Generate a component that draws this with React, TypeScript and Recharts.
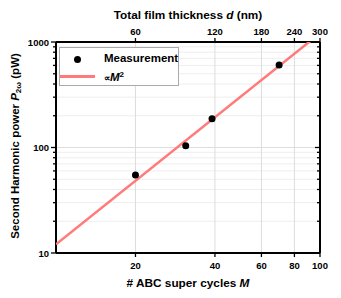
import { ComposedChart, Scatter, XAxis, YAxis, ReferenceLine, Legend, Label } from 'recharts';

// measured points: ABC super cycles M vs SH power (pW)
const cycles = [20, 31, 39, 70];
const power = [55, 104, 187, 604];

// M^2 guide line, read at the plot edges
const fitCycles = [10, 100];
const fitPower = [12.1, 1210];

const xTicks = [20, 40, 60, 80, 100];
// top axis: total film thickness d (nm) at the same positions
const topTicks = [60, 120, 180, 240, 300];
const yTicks = [10, 20, 30, 40, 50, 60, 70, 80, 90, 100, 200, 300, 400, 500, 600, 700, 800, 900, 1000];
const yMajor = [10, 100, 1000];
const xGrid = [20, 40, 60, 80];

const legendNames = ['Measurement', 'M'];

const points = cycles.map((m, i) => ({ m, p: power[i] }));
const fit = fitCycles.map((m, i) => ({ m, p: fitPower[i] }));

const FONT = '"Liberation Sans", Arial, Helvetica, sans-serif';
const RED = '#ff7b7b';

const LeftTick = (props: any) => {
  const { x, y, payload } = props;
  const major = yMajor.includes(payload.value);
  return (
    <g>
      <line x1={x} x2={x - (major ? 5 : 3)} y1={y} y2={y} stroke="#000" strokeWidth={1.3} />
      {major && (
        <text x={x - 7} y={y} textAnchor="end" dominantBaseline="central" fontFamily={FONT} fontWeight="bold" fontSize={9.5} fill="#000">
          {payload.value}
        </text>
      )}
    </g>
  );
};

const RightTick = (props: any) => {
  const { x, y, payload } = props;
  const major = yMajor.includes(payload.value);
  return <line x1={x} x2={x - (major ? 5 : 3)} y1={y} y2={y} stroke="#000" strokeWidth={1.3} />;
};

const BottomTick = (props: any) => {
  const { x, y, payload } = props;
  return (
    <g>
      <line x1={x} x2={x} y1={y} y2={y + 4} stroke="#000" strokeWidth={1.3} />
      <text x={x} y={y + 12} textAnchor="middle" dominantBaseline="central" fontFamily={FONT} fontWeight="bold" fontSize={9.5} fill="#000">
        {payload.value}
      </text>
    </g>
  );
};

const TopTick = (props: any) => {
  const { x, y, payload } = props;
  const label = topTicks[xTicks.indexOf(payload.value)];
  return (
    <g>
      <line x1={x} x2={x} y1={y} y2={y - 4} stroke="#000" strokeWidth={1.3} />
      <text x={x} y={y - 11} textAnchor="middle" dominantBaseline="central" fontFamily={FONT} fontWeight="bold" fontSize={9.5} fill="#000">
        {label}
      </text>
    </g>
  );
};

const YTitle = () => (
  <text
    transform="translate(15,146) rotate(-90)"
    textAnchor="middle"
    dominantBaseline="central"
    fontFamily={FONT}
    fontWeight="bold"
    fontSize={11.5}
    fill="#000"
  >
    Second Harmonic power <tspan fontStyle="italic">P</tspan>
    <tspan fontSize={8} dy={3}>2ω</tspan>
    <tspan dy={-3}> (pW)</tspan>
  </text>
);

const BottomTitle = () => (
  <text x={188} y={283} textAnchor="middle" dominantBaseline="central" fontFamily={FONT} fontWeight="bold" fontSize={11.8} fill="#000">
    # ABC super cycles <tspan fontStyle="italic">M</tspan>
  </text>
);

const TopTitle = () => (
  <text x={188} y={15} textAnchor="middle" dominantBaseline="central" fontFamily={FONT} fontWeight="bold" fontSize={11.8} fill="#000">
    Total film thickness <tspan fontStyle="italic">d</tspan> (nm)
  </text>
);

const LegendBox = () => (
  <div
    style={{
      position: 'relative',
      width: 120,
      height: 39,
      boxSizing: 'border-box',
      border: '1px solid #aaa',
      background: '#fff',
      fontFamily: FONT,
      fontWeight: 'bold',
      fontSize: 11.5,
      color: '#000',
    }}
  >
    <div style={{ position: 'absolute', left: 14, top: 8, width: 7, height: 7, borderRadius: '50%', background: '#000' }} />
    <div style={{ position: 'absolute', left: 44, top: 3, lineHeight: '14px' }}>{legendNames[0]}</div>
    <div style={{ position: 'absolute', left: 0, top: 27, width: 35, height: 2.5, background: RED }} />
    <div style={{ position: 'absolute', left: 44, top: 20, lineHeight: '14px', whiteSpace: 'nowrap' }}>
      <span style={{ fontSize: 9 }}>∝</span>
      <i>{legendNames[1]}</i>
      <sup style={{ fontSize: 8, verticalAlign: 4 }}>2</sup>
    </div>
  </div>
);

export default function App() {
  return (
    <div style={{ position: 'absolute', left: 0, top: 0, width: 341, height: 298, background: '#fff' }}>
      <ComposedChart width={341} height={298} margin={{ top: 0, right: 0, bottom: 0, left: 0 }}>
        <XAxis
          xAxisId="bottom"
          dataKey="m"
          type="number"
          scale="log"
          domain={[10, 100]}
          allowDataOverflow
          ticks={xTicks}
          interval={0}
          height={45}
          tickSize={0}
          tickMargin={0}
          tick={<BottomTick />}
          axisLine={{ stroke: '#000', strokeWidth: 2 }}
        >
          <Label content={<BottomTitle />} />
        </XAxis>
        <XAxis
          xAxisId="top"
          orientation="top"
          dataKey="m"
          type="number"
          scale="log"
          domain={[10, 100]}
          allowDataOverflow
          ticks={xTicks}
          interval={0}
          height={42}
          tickSize={0}
          tickMargin={0}
          tick={<TopTick />}
          axisLine={{ stroke: '#000', strokeWidth: 2 }}
        >
          <Label content={<TopTitle />} />
        </XAxis>
        <YAxis
          yAxisId="left"
          dataKey="p"
          type="number"
          scale="log"
          domain={[10, 1000]}
          allowDataOverflow
          ticks={yTicks}
          interval={0}
          width={56}
          tickSize={0}
          tickMargin={0}
          tick={<LeftTick />}
          axisLine={{ stroke: '#000', strokeWidth: 2 }}
        >
          <Label content={<YTitle />} />
        </YAxis>
        <YAxis
          yAxisId="right"
          orientation="right"
          dataKey="p"
          type="number"
          scale="log"
          domain={[10, 1000]}
          allowDataOverflow
          ticks={yTicks}
          interval={0}
          width={21}
          tickSize={0}
          tickMargin={0}
          tick={<RightTick />}
          axisLine={{ stroke: '#000', strokeWidth: 2 }}
        />

        {yTicks
          .filter(v => !yMajor.includes(v))
          .map(v => (
            <ReferenceLine key={'h' + v} xAxisId="bottom" yAxisId="left" y={v} stroke="#eeeeee" strokeWidth={1} />
          ))}
        <ReferenceLine xAxisId="bottom" yAxisId="left" y={100} stroke="#dddddd" strokeWidth={1} />
        {xGrid.map(v => (
          <ReferenceLine key={'v' + v} xAxisId="bottom" yAxisId="left" x={v} stroke="#dddddd" strokeWidth={1} />
        ))}

        {/* ties the top / right axes to the same data so their ticks get drawn */}
        <Scatter
          xAxisId="top"
          yAxisId="right"
          data={fit}
          dataKey="p"
          shape={() => <g />}
          legendType="none"
          isAnimationActive={false}
        />

        <Scatter
          xAxisId="bottom"
          yAxisId="left"
          data={fit}
          dataKey="p"
          line={{ stroke: RED, strokeWidth: 2.5 }}
          shape={() => <g />}
          isAnimationActive={false}
        />
        <Scatter
          xAxisId="bottom"
          yAxisId="left"
          data={points}
          dataKey="p"
          shape={(p: any) => <circle cx={p.cx} cy={p.cy} r={3.5} fill="#000" />}
          isAnimationActive={false}
        />

        <Legend
          layout="vertical"
          align="center"
          verticalAlign="middle"
          content={<LegendBox />}
          wrapperStyle={{ left: 59, top: 47, width: 120 }}
        />
      </ComposedChart>
    </div>
  );
}
